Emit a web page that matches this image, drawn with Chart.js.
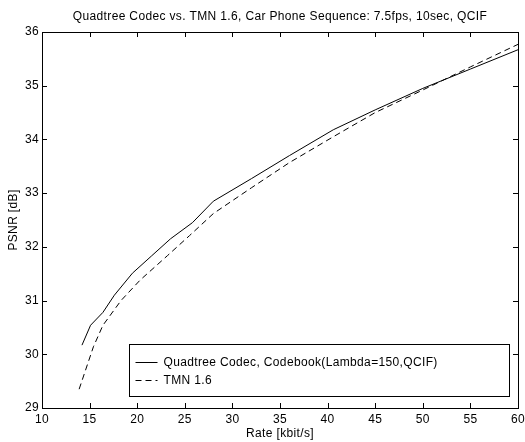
<!DOCTYPE html>
<html>
<head>
<meta charset="utf-8">
<script src="https://cdn.jsdelivr.net/npm/chart.js@4/dist/chart.umd.min.js"></script>
<style>
  html, body { margin: 0; padding: 0; background: #fff; }
  #wrap { width: 525px; height: 442px; }
</style>
</head>
<body>
<div id="wrap"><canvas id="c" width="525" height="442"></canvas></div>
<script>
// Quadtree codec (solid)
const quadRate = [14.2, 15.1, 16.4, 17.6, 19.5, 21.5, 23.5, 25.8, 28.0, 32.0, 36.0, 40.6, 45.0, 50.0, 55.0, 60.0];
const quadPsnr = [30.17, 30.54, 30.78, 31.1, 31.51, 31.83, 32.15, 32.45, 32.85, 33.27, 33.7, 34.18, 34.55, 34.95, 35.31, 35.67];
// TMN 1.6 (dashed)
const tmnRate = [13.9, 15.4, 16.4, 18.3, 20.3, 23.2, 25.5, 28.0, 32.0, 36.0, 40.6, 45.0, 50.0, 55.0, 60.0];
const tmnPsnr = [29.35, 30.14, 30.54, 31.0, 31.38, 31.84, 32.21, 32.62, 33.1, 33.57, 34.05, 34.5, 34.92, 35.35, 35.77];

const xTicks = [10, 15, 20, 25, 30, 35, 40, 45, 50, 55, 60];
const yTicks = [29, 30, 31, 32, 33, 34, 35, 36];

const seriesNames = ['Quadtree Codec, Codebook(Lambda=150,QCIF)', 'TMN 1.6'];
const titleText = 'Quadtree Codec vs. TMN 1.6, Car Phone Sequence: 7.5fps, 10sec, QCIF';

const FONT = 'Liberation Sans, Arial, Helvetica, sans-serif';
const FSIZE = 12;

function pts(xs, ys) {
  return xs.map((x, i) => ({ x: x, y: ys[i] }));
}

// the old raster text runs a bit wide, so space the letters out a little
const spacing = {
  id: 'spacing',
  beforeLayout(chart) { chart.ctx.letterSpacing = '0.35px'; },
  beforeDraw(chart) { chart.ctx.letterSpacing = '0.35px'; }
};

// title centred over the axes, like matlab does it
const axesTitle = {
  id: 'axesTitle',
  afterDraw(chart) {
    const ctx = chart.ctx;
    const a = chart.chartArea;
    ctx.save();
    ctx.fillStyle = '#000';
    ctx.font = FSIZE + 'px ' + FONT;
    ctx.textAlign = 'center';
    ctx.textBaseline = 'middle';
    ctx.fillText(titleText, (a.left + a.right) / 2, a.top - 15.5);
    ctx.restore();
  }
};

// box with inward ticks, y title and the legend inside the axes
const matlabFrame = {
  id: 'matlabFrame',
  afterDatasetsDraw(chart) {
    const ctx = chart.ctx;
    const a = chart.chartArea;
    const xs = chart.scales.x, ys = chart.scales.y;
    const tl = 5;
    ctx.save();
    ctx.strokeStyle = '#000';
    ctx.lineWidth = 1;
    ctx.setLineDash([]);
    ctx.strokeRect(Math.round(a.left) + 0.5, Math.round(a.top) + 0.5,
      Math.round(a.right - a.left), Math.round(a.bottom - a.top));
    ctx.beginPath();
    xTicks.forEach(v => {
      const px = Math.round(xs.getPixelForValue(v)) + 0.5;
      ctx.moveTo(px, a.bottom); ctx.lineTo(px, a.bottom - tl);
      ctx.moveTo(px, a.top); ctx.lineTo(px, a.top + tl);
    });
    yTicks.forEach(v => {
      const py = Math.round(ys.getPixelForValue(v)) + 0.5;
      ctx.moveTo(a.left, py); ctx.lineTo(a.left + tl, py);
      ctx.moveTo(a.right, py); ctx.lineTo(a.right - tl, py);
    });
    ctx.stroke();

    // y axis title
    ctx.fillStyle = '#000';
    ctx.font = FSIZE + 'px ' + FONT;
    ctx.textAlign = 'center';
    ctx.textBaseline = 'middle';
    ctx.save();
    ctx.translate(14, (a.top + a.bottom) / 2);
    ctx.rotate(-Math.PI / 2);
    ctx.fillText('PSNR [dB]', 0, 0);
    ctx.restore();

    // legend
    const bw = 380, bh = 52;
    const bx = Math.round(a.right - 9 - bw) + 0.5;
    const by = Math.round(a.bottom - 12 - bh) + 0.5;
    ctx.fillStyle = '#fff';
    ctx.fillRect(bx, by, bw, bh);
    ctx.strokeRect(bx, by, bw, bh);
    const rows = [by + 18, by + 36];
    chart.data.datasets.forEach((ds, i) => {
      ctx.beginPath();
      ctx.setLineDash(ds.borderDash || []);
      ctx.moveTo(bx + 6, rows[i]);
      ctx.lineTo(bx + 28, rows[i]);
      ctx.stroke();
      ctx.setLineDash([]);
      ctx.fillStyle = '#000';
      ctx.textAlign = 'left';
      ctx.fillText(ds.label, bx + 34, rows[i]);
    });
    ctx.restore();
  }
};

new Chart(document.getElementById('c'), {
  type: 'scatter',
  data: {
    datasets: [{
      label: seriesNames[0],
      data: pts(quadRate, quadPsnr),
      showLine: true,
      borderColor: '#000',
      borderWidth: 1,
      pointRadius: 0,
      tension: 0
    },
    {
      label: seriesNames[1],
      data: pts(tmnRate, tmnPsnr),
      showLine: true,
      borderColor: '#000',
      borderWidth: 1,
      borderDash: [6, 4],
      pointRadius: 0,
      tension: 0
    }]
  },
  options: {
    responsive: false,
    animation: false,
    layout: { padding: { left: 0, right: 7, top: 32, bottom: 0 } },
    plugins: {
      legend: { display: false },
      tooltip: { enabled: false },
      title: { display: false }
    },
    scales: {
      x: {
        type: 'linear',
        min: 10,
        max: 60,
        afterBuildTicks(s) { s.ticks = xTicks.map(v => ({ value: v })); },
        afterFit(s) { s.height = 34; s.paddingLeft = 0; s.paddingRight = 0; },
        grid: { display: false, drawTicks: false },
        border: { display: false },
        ticks: { color: '#000', padding: 4, maxRotation: 0, font: { family: FONT, size: FSIZE } },
        title: {
          display: true,
          text: 'Rate [kbit/s]',
          color: '#000',
          font: { family: FONT, size: FSIZE },
          padding: { top: 0, bottom: 1.5 }
        }
      },
      y: {
        min: 29,
        max: 36,
        afterBuildTicks(s) { s.ticks = yTicks.map(v => ({ value: v })); },
        afterFit(s) { s.width = 42; s.paddingTop = 0; s.paddingBottom = 0; },
        grid: { display: false, drawTicks: false },
        border: { display: false },
        ticks: { color: '#000', padding: 3, font: { family: FONT, size: FSIZE } }
      }
    }
  },
  plugins: [spacing, axesTitle, matlabFrame]
});
</script>
</body>
</html>
